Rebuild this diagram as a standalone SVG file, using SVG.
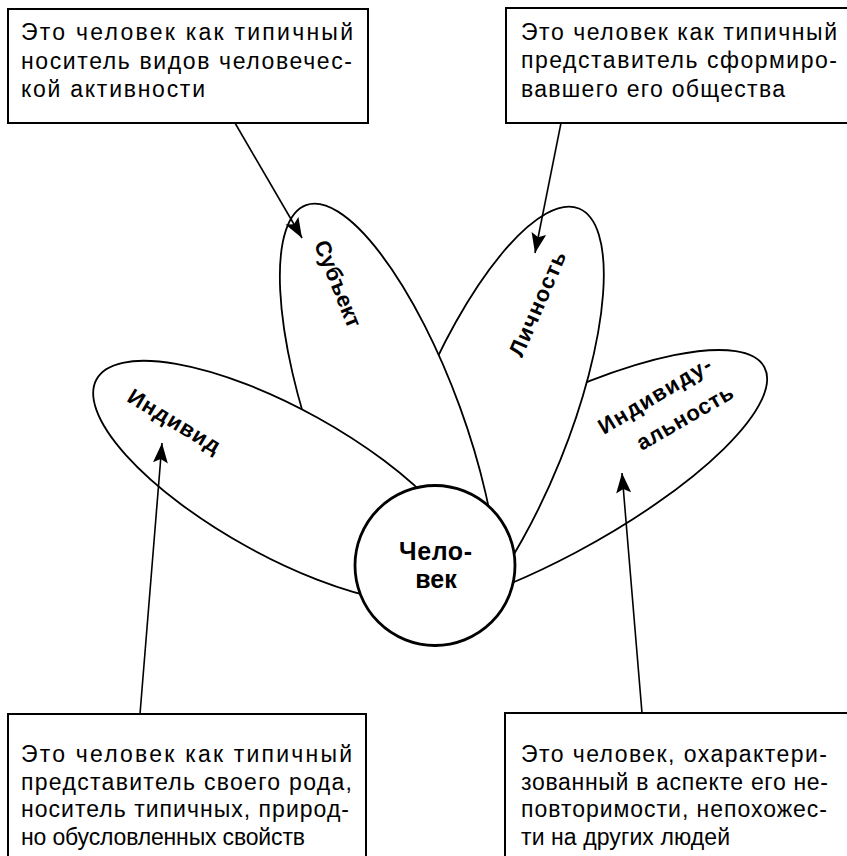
<svg xmlns="http://www.w3.org/2000/svg" width="847" height="856" viewBox="0 0 847 856">
<style>
.box{fill:#fff;stroke:#000;stroke-width:2}
.petal{fill:#fff;stroke:#000;stroke-width:1.8}
.core{fill:#fff;stroke:#000;stroke-width:2.8}
.t{font-family:"Liberation Sans",Arial,sans-serif;font-size:23px;fill:#000}
.lb{font-family:"Liberation Sans",Arial,sans-serif;font-size:22px;font-weight:bold;fill:#000;text-anchor:middle}
.conn line{stroke:#000;stroke-width:1.6}
</style>
<defs>
<marker id="ah" viewBox="0 0 20 15" refX="20" refY="7.5" markerWidth="20" markerHeight="15" markerUnits="userSpaceOnUse" orient="auto">
<path d="M0,0 L20,7.5 L0,15 L4,7.5 Z" fill="#000"/>
</marker>
<clipPath id="c-ind" clipPathUnits="userSpaceOnUse"><rect x="-240" y="-100" width="414" height="200"/></clipPath>
<clipPath id="c-sub" clipPathUnits="userSpaceOnUse"><rect x="-270" y="-100" width="410" height="200"/></clipPath>
<clipPath id="c-lich" clipPathUnits="userSpaceOnUse"><rect x="-270" y="-100" width="415" height="200"/></clipPath>
<clipPath id="c-indv" clipPathUnits="userSpaceOnUse"><rect x="-280" y="-100" width="411" height="200"/></clipPath>
</defs>
<rect width="847" height="856" fill="#fff"/>

<g id="box-subject-desc">
<rect class="box" x="8" y="9" width="360" height="114"/>
<text class="t" x="21" y="40" textLength="332" lengthAdjust="spacing">Это человек как типичный</text>
<text class="t" x="21" y="68.5" textLength="331" lengthAdjust="spacing">носитель видов человечес-</text>
<text class="t" x="21" y="97" textLength="184" lengthAdjust="spacing">кой активности</text>
</g>

<g id="box-personality-desc">
<rect class="box" x="506" y="8" width="350" height="115"/>
<text class="t" x="521" y="39.5" textLength="316" lengthAdjust="spacing">Это человек как типичный</text>
<text class="t" x="521" y="68" textLength="316" lengthAdjust="spacing">представитель сформиро-</text>
<text class="t" x="521" y="96.5" textLength="264" lengthAdjust="spacing">вавшего его общества</text>
</g>

<g id="box-individ-desc">
<rect class="box" x="8" y="714" width="358" height="150"/>
<text class="t" x="21" y="762" textLength="331" lengthAdjust="spacing">Это человек как типичный</text>
<text class="t" x="21" y="789.5" textLength="331" lengthAdjust="spacing">представитель своего рода,</text>
<text class="t" x="21" y="817" textLength="328" lengthAdjust="spacing">носитель типичных, природ-</text>
<text class="t" x="21" y="845" textLength="284" lengthAdjust="spacing">но обусловленных свойств</text>
</g>

<g id="box-individuality-desc">
<rect class="box" x="505" y="713" width="350" height="150"/>
<text class="t" x="521" y="762" textLength="306" lengthAdjust="spacing">Это человек, охарактери-</text>
<text class="t" x="521" y="789.5" textLength="307" lengthAdjust="spacing">зованный в аспекте его не-</text>
<text class="t" x="521" y="817" textLength="306" lengthAdjust="spacing">повторимости, непохожес-</text>
<text class="t" x="521" y="845" textLength="209" lengthAdjust="spacing">ти на других людей</text>
</g>

<g id="petal-individuality">
<g transform="translate(541,486) rotate(152)"><ellipse class="petal" cx="0" cy="0" rx="253" ry="75" clip-path="url(#c-indv)"/></g>
<text class="lb" transform="translate(655,396) rotate(-31)" y="7" textLength="128" lengthAdjust="spacing">Индивиду-</text>
<text class="lb" transform="translate(685,418) rotate(-30)" y="7" textLength="108" lengthAdjust="spacing">альность</text>
</g>

<g id="petal-personality">
<g transform="translate(489,431) rotate(112)"><ellipse class="petal" cx="0" cy="0" rx="240" ry="77" clip-path="url(#c-lich)"/></g>
<text class="lb" transform="translate(538,304) rotate(-66.5)" y="7" textLength="112" lengthAdjust="spacing">Личность</text>
</g>

<g id="petal-subject">
<g transform="translate(389,433) rotate(70)"><ellipse class="petal" cx="0" cy="0" rx="242.5" ry="75.5" clip-path="url(#c-sub)"/></g>
<text class="lb" transform="translate(337.5,284) rotate(68)" y="7" textLength="92" lengthAdjust="spacing">Субъект</text>
</g>

<g id="petal-individ">
<g transform="translate(282,482) rotate(29)"><ellipse class="petal" cx="0" cy="0" rx="212" ry="73.5" clip-path="url(#c-ind)"/></g>
<text class="lb" transform="translate(174,421.5) rotate(31)" y="7" textLength="104" lengthAdjust="spacing">Индивид</text>
</g>

<g id="node-human">
<circle class="core" cx="435" cy="565.5" r="80"/>
<text class="lb" x="435.5" y="560" style="font-size:25px" textLength="73" lengthAdjust="spacing">Чело-</text>
<text class="lb" x="436" y="588" style="font-size:25px">век</text>
</g>

<g id="connectors" class="conn">
<line x1="235" y1="123" x2="302" y2="238" marker-end="url(#ah)"/>
<line x1="561" y1="123" x2="535" y2="253" marker-end="url(#ah)"/>
<line x1="140" y1="714" x2="162" y2="443" marker-end="url(#ah)"/>
<line x1="642" y1="713" x2="622" y2="473" marker-end="url(#ah)"/>
</g>
</svg>
